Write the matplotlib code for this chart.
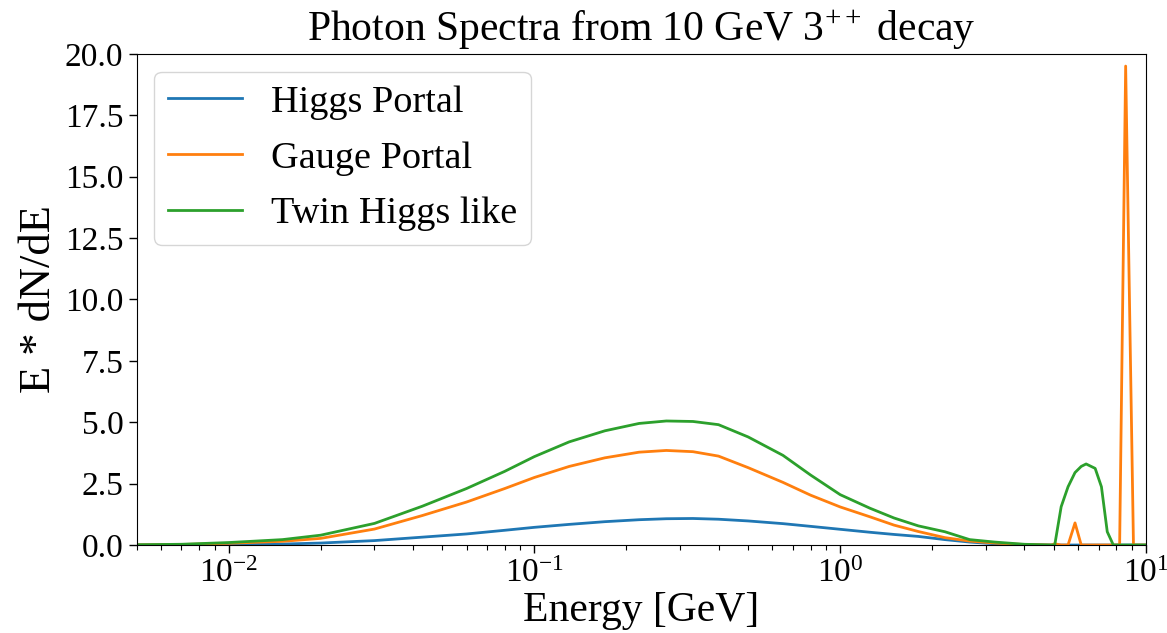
import matplotlib
matplotlib.use("Agg")
import matplotlib.pyplot as plt
from matplotlib.ticker import LogLocator, NullFormatter, FormatStrFormatter

plt.rcParams['font.family'] = ['Liberation Serif', 'DejaVu Serif']
plt.rcParams['mathtext.fontset'] = 'custom'
plt.rcParams['mathtext.rm'] = 'Liberation Serif'
plt.rcParams['mathtext.it'] = 'Liberation Serif:italic'

title = "Photon Spectra from 10 GeV $3^{++}$ decay"
xlabel = "Energy [GeV]"
ylabel = "E * dN/dE"
labels = ["Higgs Portal", "Gauge Portal", "Twin Higgs like"]

energy = [0.005, 0.007, 0.01, 0.015, 0.02, 0.03, 0.043, 0.06, 0.08, 0.1,
          0.13, 0.17, 0.22, 0.27, 0.33, 0.4, 0.5, 0.65, 0.8, 1.0,
          1.25, 1.5, 1.8, 2.2, 2.65, 3.2, 4.0, 4.9, 5.03, 5.28,
          5.56, 5.86, 6.14, 6.37, 6.82, 7.15, 7.47, 7.82, 8.2, 8.58,
          9.1, 10.0]

higgs_portal = [0.002, 0.005, 0.015, 0.04, 0.08, 0.18, 0.32, 0.45, 0.6, 0.72,
                0.84, 0.95, 1.03, 1.07, 1.08, 1.05, 0.98, 0.87, 0.76, 0.64,
                0.52, 0.43, 0.35, 0.22, 0.12, 0.05, 0.01, 0.0, 0.0, 0.0,
                0.0, 0.0, 0.0, 0.0, 0.0, 0.0, 0.0, 0.0, 0.0, 0.0,
                0.0, 0.0]

gauge_portal = [0.005, 0.02, 0.07, 0.15, 0.27, 0.65, 1.2, 1.75, 2.3, 2.75,
                3.2, 3.55, 3.78, 3.85, 3.8, 3.62, 3.15, 2.55, 2.03, 1.55,
                1.15, 0.81, 0.55, 0.3, 0.16, 0.08, 0.02, 0.0, 0.05, 0.0,
                0.0, 0.9, 0.0, 0.0, 0.0, 0.0, 0.0, 0.0, 0.0, 19.5,
                0.0, 0.0]

twin_higgs = [0.01, 0.03, 0.1, 0.22, 0.4, 0.88, 1.58, 2.3, 3.0, 3.6,
              4.2, 4.65, 4.95, 5.05, 5.03, 4.9, 4.4, 3.65, 2.85, 2.05,
              1.5, 1.1, 0.78, 0.54, 0.22, 0.12, 0.03, 0.0, 0.0, 1.56,
              2.37, 2.95, 3.2, 3.3, 3.12, 2.37, 0.54, 0.0, 0.0, 0.0,
              0.0, 0.0]

colors = ["#1f77b4", "#ff7f0e", "#2ca02c"]

fig = plt.figure(figsize=(11.67, 6.33), dpi=100)
ax = fig.add_axes([0.117, 0.139, 0.865, 0.776])

for ys, lab, c in zip([higgs_portal, gauge_portal, twin_higgs], labels, colors):
    ax.plot(energy, ys, color=c, lw=2.0, label=lab)

ax.set_xscale('log')
ax.set_xlim(0.005, 10)
ax.set_ylim(0, 20)
ax.set_yticks([0, 2.5, 5, 7.5, 10, 12.5, 15, 17.5, 20])
ax.yaxis.set_major_formatter(FormatStrFormatter('%.1f'))
ax.xaxis.set_minor_locator(LogLocator(base=10, subs=range(2, 10), numticks=20))
ax.xaxis.set_minor_formatter(NullFormatter())

ax.tick_params(axis='both', which='major', labelsize=24, length=6, width=1)
ax.tick_params(axis='both', which='minor', length=3.5, width=0.8)

ax.set_title(title, fontsize=30, pad=9)
ax.set_xlabel(xlabel, fontsize=30, labelpad=2)
ax.set_ylabel(ylabel, fontsize=32, labelpad=4)

ax.legend(loc='upper left', fontsize=27.5, handlelength=1.95, borderpad=0.35,
          labelspacing=0.55, handletextpad=0.75, borderaxespad=0.47,
          framealpha=0.8)

fig.savefig("out.png", dpi=100)
